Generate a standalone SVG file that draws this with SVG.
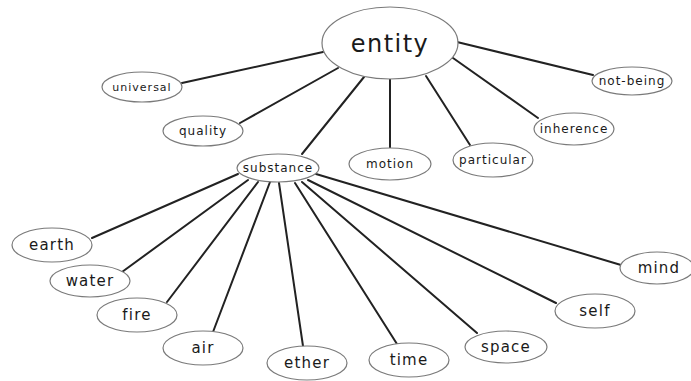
<svg xmlns="http://www.w3.org/2000/svg" width="691" height="381" viewBox="0 0 691 381">
<style>
.n ellipse{fill:#fff;stroke:#7a7a7a;stroke-width:1.2}
.n text{font-family:"DejaVu Sans",sans-serif;fill:#1a1a1a;text-anchor:middle;font-size:12px;letter-spacing:1px}
.n.big text{font-size:15px;letter-spacing:1.2px}
#entity text{font-size:24px;letter-spacing:1.5px}
#edges line{stroke:#222;stroke-width:2;stroke-linecap:round}
</style>
<rect width="691" height="381" fill="#fff"/>
<g id="edges">
<line x1="323" y1="52" x2="182" y2="83"/>
<line x1="338" y1="68" x2="240" y2="123"/>
<line x1="364" y1="77" x2="302" y2="154"/>
<line x1="390" y1="79" x2="390" y2="149"/>
<line x1="426" y1="76" x2="470" y2="145"/>
<line x1="453" y1="58" x2="538" y2="118"/>
<line x1="457" y1="42" x2="593" y2="75"/>
<line x1="238" y1="174" x2="92" y2="238"/>
<line x1="248" y1="180" x2="122" y2="272"/>
<line x1="258" y1="182" x2="167" y2="302"/>
<line x1="270" y1="182" x2="213" y2="332"/>
<line x1="279" y1="183" x2="303" y2="346"/>
<line x1="295" y1="183" x2="397" y2="344"/>
<line x1="302" y1="182" x2="477" y2="333"/>
<line x1="308" y1="180" x2="556" y2="303"/>
<line x1="316" y1="174" x2="621" y2="265"/>
</g>
<g id="entity" class="n"><ellipse cx="390" cy="43" rx="68" ry="36"/><text x="390" y="52">entity</text></g>
<g id="universal" class="n"><ellipse cx="142" cy="87" rx="40" ry="15"/><text x="142" y="91" style="font-size:11px">universal</text></g>
<g id="quality" class="n"><ellipse cx="203" cy="131" rx="40" ry="15"/><text x="203" y="135">quality</text></g>
<g id="substance" class="n"><ellipse cx="278" cy="168" rx="41" ry="14"/><text x="278" y="172">substance</text></g>
<g id="motion" class="n"><ellipse cx="390" cy="164" rx="41" ry="16"/><text x="390" y="168">motion</text></g>
<g id="particular" class="n"><ellipse cx="493" cy="160" rx="40" ry="17"/><text x="493" y="164">particular</text></g>
<g id="inherence" class="n"><ellipse cx="574" cy="129" rx="40" ry="16"/><text x="574" y="133">inherence</text></g>
<g id="not-being" class="n"><ellipse cx="632" cy="81" rx="40" ry="14"/><text x="632" y="85">not-being</text></g>
<g id="earth" class="n big"><ellipse cx="52" cy="245" rx="40" ry="17"/><text x="52" y="250">earth</text></g>
<g id="water" class="n big"><ellipse cx="90" cy="281" rx="40" ry="16"/><text x="90" y="286">water</text></g>
<g id="fire" class="n big"><ellipse cx="137" cy="315" rx="40" ry="17"/><text x="137" y="320">fire</text></g>
<g id="air" class="n big"><ellipse cx="203" cy="348" rx="40" ry="17"/><text x="203" y="353">air</text></g>
<g id="ether" class="n big"><ellipse cx="307" cy="363" rx="40" ry="17"/><text x="307" y="368">ether</text></g>
<g id="time" class="n big"><ellipse cx="409" cy="360" rx="40" ry="17"/><text x="409" y="365">time</text></g>
<g id="space" class="n big"><ellipse cx="506" cy="347" rx="41" ry="16"/><text x="506" y="352">space</text></g>
<g id="self" class="n big"><ellipse cx="595" cy="311" rx="40" ry="17"/><text x="595" y="316">self</text></g>
<g id="mind" class="n big"><ellipse cx="657" cy="268" rx="37" ry="16"/><text x="659" y="273">mind</text></g>
</svg>
